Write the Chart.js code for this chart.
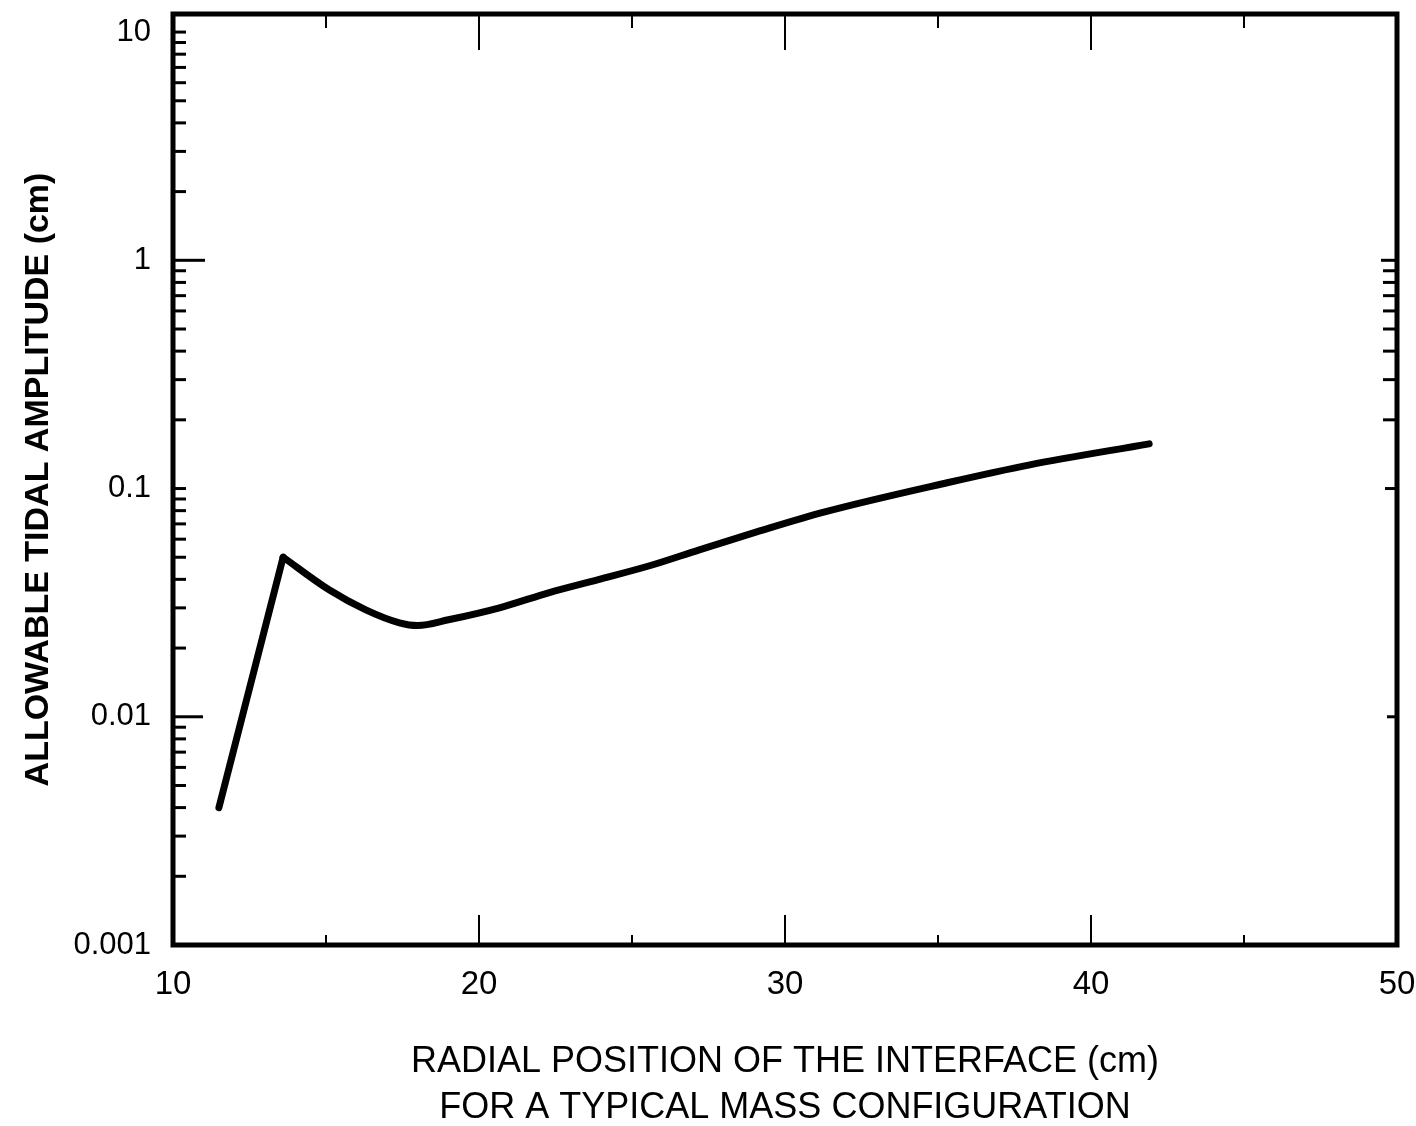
<!DOCTYPE html>
<html lang="en">
<head>
    <meta charset="UTF-8">
    <title>Allowable tidal amplitude</title>
    <style>
        body { margin: 0; background: #fff; }
        #wrap { width: 1416px; height: 1126px; }
    </style>
</head>
<body>
    <div id="wrap"><canvas id="myChart"></canvas></div>

    <script src="https://cdn.jsdelivr.net/npm/chart.js"></script>
    <script>
        // data
        const riseX = [11.5, 13.6];
        const riseY = [0.004, 0.05];
        const curveX = [13.6, 15.1, 16.3, 17.4, 18.0, 19.0, 20.7, 22.3, 23.9, 25.6, 27.2, 29.1, 31.3, 35.3, 38.0, 41.9];
        const curveY = [0.05, 0.036, 0.0294, 0.0258, 0.0251, 0.0266, 0.0301, 0.035, 0.0399, 0.046, 0.0539, 0.0647, 0.079, 0.106, 0.127, 0.157];

        const xTickLabels = [10, 20, 30, 40, 50];
        const yTickLabels = [0.001, 0.01, 0.1, 1, 10];
        const decades = [0.001, 0.01, 0.1, 1];
        const mantissas = [2, 3, 4, 5, 6, 7, 8, 9];
        const xMinor = [15, 25, 35, 45];
        const xMajor = [20, 30, 40];

        const FONT = "'Liberation Sans', Arial, sans-serif";

        function pts(xs, ys) {
            return xs.map((v, i) => ({ x: v, y: ys[i] }));
        }

        // no extra label overflow padding, the frame sits where the layout padding says
        function noPad(s) {
            s.paddingTop = 0;
            s.paddingBottom = 0;
            s.paddingLeft = 0;
            s.paddingRight = 0;
        }

        // frame + inward ticks, positioned through the chart scales
        const frameTicks = {
            id: 'frameTicks',
            afterDatasetsDraw(chart) {
                const { ctx, chartArea: a, scales: { x, y } } = chart;
                ctx.save();
                ctx.strokeStyle = '#000';
                ctx.lineCap = 'butt';

                const hTick = (yy, x0, len, w) => {
                    ctx.lineWidth = w;
                    ctx.beginPath();
                    ctx.moveTo(x0, yy);
                    ctx.lineTo(x0 + len, yy);
                    ctx.stroke();
                };
                const vTick = (xx, y0, len, w) => {
                    ctx.lineWidth = w;
                    ctx.beginPath();
                    ctx.moveTo(xx, y0);
                    ctx.lineTo(xx, y0 + len);
                    ctx.stroke();
                };

                // left axis
                decades.forEach(d => {
                    mantissas.forEach(m => {
                        hTick(y.getPixelForValue(d * m), a.left, 13, 3);
                    });
                });
                hTick(y.getPixelForValue(10), a.left, 13, 3);
                hTick(y.getPixelForValue(1), a.left, 32, 3);
                hTick(y.getPixelForValue(0.1), a.left, 13, 3);
                hTick(y.getPixelForValue(0.01), a.left, 30, 3);

                // right axis
                mantissas.forEach(m => hTick(y.getPixelForValue(0.1 * m), a.right, -14, 3));
                hTick(y.getPixelForValue(1), a.right, -16, 3);
                hTick(y.getPixelForValue(0.1), a.right, -12, 3);
                hTick(y.getPixelForValue(0.01), a.right, -10, 3);

                // bottom and top
                xMinor.forEach(v => {
                    vTick(x.getPixelForValue(v), a.bottom, -10, 2);
                    vTick(x.getPixelForValue(v), a.top, 14, 2);
                });
                xMajor.forEach(v => {
                    vTick(x.getPixelForValue(v), a.bottom, -30, 2);
                    vTick(x.getPixelForValue(v), a.top, 36, 2);
                });

                // frame
                ctx.lineWidth = 5;
                ctx.strokeRect(a.left, a.top, a.right - a.left, a.bottom - a.top);
                ctx.restore();
            }
        };

        const data = {
            datasets: [
                {
                    label: 'rise',
                    data: pts(riseX, riseY),
                    borderColor: '#000',
                    borderWidth: 7,
                    pointRadius: 0,
                    tension: 0,
                    borderCapStyle: 'round',
                    borderJoinStyle: 'miter'
                },
                {
                    label: 'curve',
                    data: pts(curveX, curveY),
                    borderColor: '#000',
                    borderWidth: 7,
                    pointRadius: 0,
                    cubicInterpolationMode: 'monotone',
                    borderCapStyle: 'round'
                }
            ]
        };

        const config = {
            type: 'line',
            data: data,
            options: {
                responsive: true,
                maintainAspectRatio: false,
                animation: false,
                layout: { padding: { top: 14, right: 19, left: 0, bottom: 0 } },
                plugins: {
                    legend: { display: false },
                    tooltip: { enabled: false }
                },
                scales: {
                    x: {
                        type: 'linear',
                        min: 10,
                        max: 50,
                        grid: { display: false, drawTicks: false },
                        border: { display: false },
                        afterBuildTicks: s => { s.ticks = xTickLabels.map(v => ({ value: v })); },
                        afterFit: s => { s.height = 181; noPad(s); },
                        ticks: {
                            color: '#000',
                            padding: 20,
                            font: { family: FONT, size: 33 },
                            callback: v => String(v)
                        },
                        title: {
                            display: true,
                            text: ['RADIAL POSITION OF THE INTERFACE (cm)', 'FOR A TYPICAL MASS CONFIGURATION'],
                            color: '#000',
                            font: { family: FONT, size: 36, lineHeight: '46px' },
                            padding: { top: 0, bottom: -5 }
                        }
                    },
                    y: {
                        type: 'logarithmic',
                        min: 0.001,
                        max: 12,
                        grid: { display: false, drawTicks: false },
                        border: { display: false },
                        afterBuildTicks: s => { s.ticks = yTickLabels.map(v => ({ value: v })); },
                        afterFit: s => { s.width = 173; noPad(s); },
                        ticks: {
                            color: '#000',
                            padding: 22,
                            font: { family: FONT, size: 31 },
                            callback: v => String(v)
                        },
                        title: {
                            display: true,
                            text: 'ALLOWABLE TIDAL AMPLITUDE (cm)',
                            color: '#000',
                            font: { family: FONT, size: 34, weight: 'bold', lineHeight: 1.2 },
                            padding: { top: 18, bottom: 0 }
                        }
                    }
                }
            },
            plugins: [frameTicks]
        };

        const ctx = document.querySelector('#myChart').getContext('2d');
        new Chart(ctx, config);
    </script>
</body>
</html>
